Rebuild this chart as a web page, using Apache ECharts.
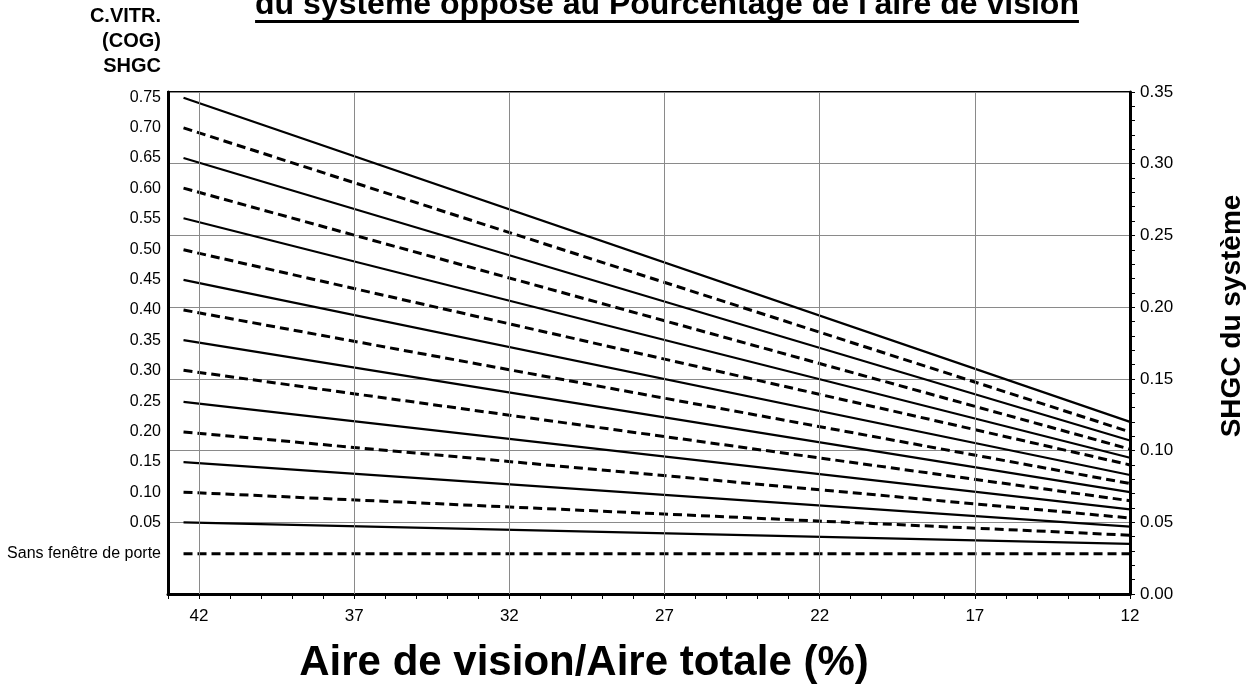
<!DOCTYPE html>
<html>
<head>
<meta charset="utf-8">
<script src="https://cdn.jsdelivr.net/npm/echarts@6/dist/echarts.min.js"></script>
<style>
  html, body { margin: 0; padding: 0; background: #fff; }
  #chart { width: 1258px; height: 687px; }
</style>
</head>
<body>
<div id="chart"></div>
<script>
// Centre-of-glass SHGC of each curve (label shown at the start of the line)
const cogLabels = ['0.75', '0.70', '0.65', '0.60', '0.55', '0.50', '0.45', '0.40',
                   '0.35', '0.30', '0.25', '0.20', '0.15', '0.10', '0.05', 'Sans fenêtre de porte'];
// Vision area / total area (%) at the two ends of every line
const visionRange = [42.5, 12];
// System SHGC at the start (42.5 %) and at the end (12 %) of each line
const shgcAtStart = [0.346, 0.325, 0.304, 0.283, 0.262, 0.240, 0.219, 0.198,
                     0.177, 0.156, 0.134, 0.113, 0.092, 0.071, 0.050, 0.028];
const shgcAtEnd   = [0.120, 0.113, 0.107, 0.101, 0.095, 0.090, 0.083, 0.077,
                     0.071, 0.065, 0.059, 0.053, 0.047, 0.041, 0.035, 0.028];
// Labelled ticks of the horizontal axis
const xTickLabels = [42, 37, 32, 27, 22, 17, 12];

const FONT = "'Liberation Sans', Arial, Helvetica, sans-serif";
const titleText = "du système opposé au Pourcentage de l'aire de vision";
const titleFont = 'bold 32px ' + FONT;

// width of the title, used for its underline
const measureCtx = document.createElement('canvas').getContext('2d');
measureCtx.font = titleFont;
const titleWidth = measureCtx.measureText(titleText).width;
const titleCenterX = 667;

const chart = echarts.init(document.getElementById('chart'), null, { renderer: 'canvas' });

const lineSeries = cogLabels.map((name, i) => ({
  type: 'line',
  name: name,
  xAxisIndex: 0,
  yAxisIndex: 0,
  z: 3,
  symbol: 'none',
  silent: true,
  data: [[visionRange[0], shgcAtStart[i]], [visionRange[1], shgcAtEnd[i]]],
  lineStyle: i % 2 === 0
    ? { color: '#000', width: 2.2, type: 'solid' }
    : { color: '#000', width: 3, type: [9, 5] }
}));

// vertical grid lines at the labelled ticks
const gridSeries = {
  type: 'line',
  data: [],
  z: 1,
  silent: true,
  markLine: {
    silent: true,
    symbol: ['none', 'none'],
    label: { show: false },
    animation: false,
    lineStyle: { color: '#8a8a8a', width: 1, type: 'solid' },
    data: xTickLabels.filter(v => v !== 12).map(v => ({ xAxis: v }))
  }
};

function cogLabelFor(value) {
  let best = 0, bestDist = Infinity;
  shgcAtStart.forEach((v, i) => {
    const d = Math.abs(v - value);
    if (d < bestDist) { bestDist = d; best = i; }
  });
  return cogLabels[best];
}

const option = {
  animation: false,
  backgroundColor: '#fff',
  grid: {
    left: 168, top: 92, width: 962, height: 502,
    show: true, borderColor: '#000', borderWidth: 2,
    containLabel: false, outerBoundsMode: 'none'
  },
  xAxis: [{
    type: 'value',
    inverse: true,
    min: 12, max: 43, interval: 1,
    position: 'bottom',
    axisLine: { show: true, onZero: false, lineStyle: { color: '#000', width: 3 } },
    axisTick: { show: true, inside: false, length: 5, lineStyle: { color: '#000', width: 1 } },
    axisLabel: {
      show: true, customValues: xTickLabels, margin: 14,
      fontSize: 17, color: '#000', fontFamily: FONT
    },
    splitLine: { show: false }
  }],
  yAxis: [{
    type: 'value',
    position: 'right',
    min: 0, max: 0.35, interval: 0.05,
    axisLine: { show: true, onZero: false, lineStyle: { color: '#000', width: 3 } },
    axisTick: { show: true, inside: false, length: 5, lineStyle: { color: '#000', width: 1 } },
    minorTick: { show: true, splitNumber: 5, length: 5, lineStyle: { color: '#000', width: 1 } },
    axisLabel: {
      formatter: v => v.toFixed(2), margin: 10,
      fontSize: 17, color: '#000', fontFamily: FONT
    },
    splitLine: { show: true, lineStyle: { color: '#8a8a8a', width: 1 } }
  }, {
    type: 'value',
    position: 'left',
    min: 0, max: 0.35,
    axisLine: { show: true, onZero: false, lineStyle: { color: '#000', width: 3 } },
    axisTick: { show: false },
    axisLabel: {
      customValues: shgcAtStart, margin: 7,
      formatter: v => cogLabelFor(v),
      fontSize: 16, color: '#000', fontFamily: FONT
    },
    splitLine: { show: false }
  }],
  series: [gridSeries].concat(lineSeries),
  graphic: [
    {
      type: 'text', x: titleCenterX, y: 5.5, silent: true,
      style: { text: titleText, font: titleFont, fill: '#000',
               align: 'center', verticalAlign: 'middle', textAlign: 'center', textVerticalAlign: 'middle' }
    },
    {
      type: 'rect', silent: true,
      shape: { x: titleCenterX - titleWidth / 2, y: 20, width: titleWidth, height: 3 },
      style: { fill: '#000' }
    },
    {
      type: 'text', x: 161, y: 41, silent: true,
      style: { text: 'C.VITR.\n(COG)\nSHGC', font: 'bold 20px ' + FONT, fill: '#000', lineHeight: 25,
               align: 'right', verticalAlign: 'middle', textAlign: 'right', textVerticalAlign: 'middle' }
    },
    {
      type: 'text', x: 1232, y: 316, rotation: Math.PI / 2, silent: true,
      style: { text: 'SHGC du système', font: 'bold 28px ' + FONT, fill: '#000',
               align: 'center', verticalAlign: 'middle', textAlign: 'center', textVerticalAlign: 'middle' }
    },
    {
      type: 'text', x: 584, y: 663, silent: true,
      style: { text: 'Aire de vision/Aire totale (%)', font: 'bold 42px ' + FONT, fill: '#000',
               align: 'center', verticalAlign: 'middle', textAlign: 'center', textVerticalAlign: 'middle' }
    }
  ]
};

chart.setOption(option);
</script>
</body>
</html>
